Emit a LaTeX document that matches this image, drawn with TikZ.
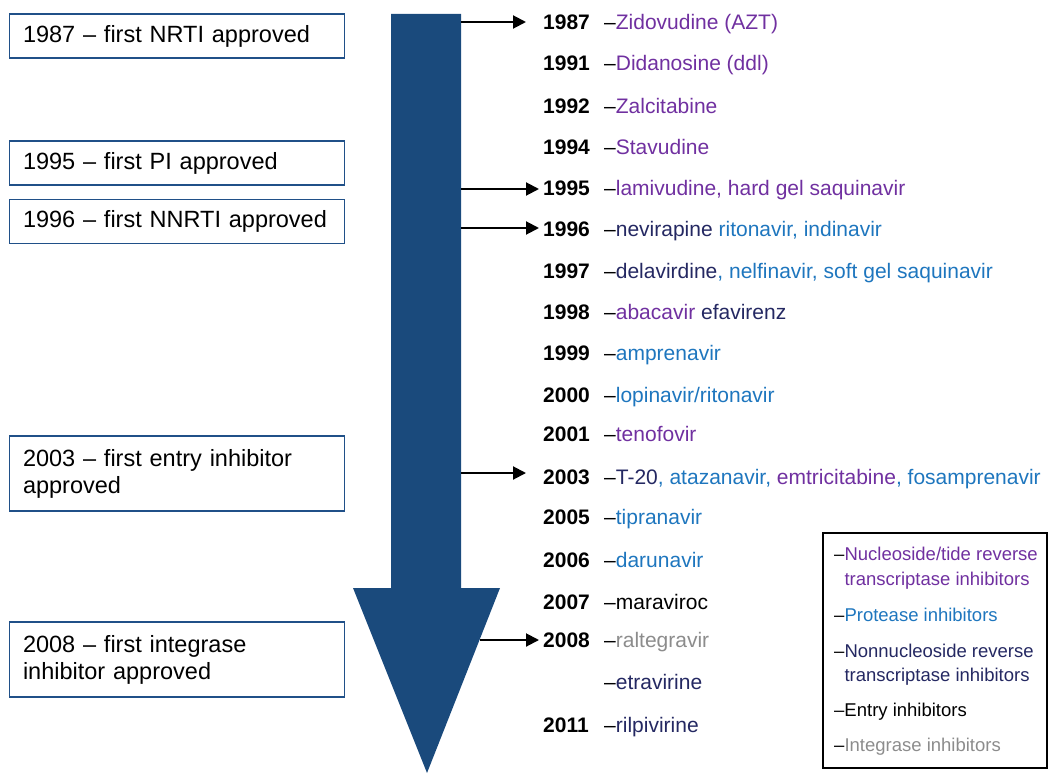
\documentclass[tikz,border=0pt]{standalone}
\usepackage{fontspec}
\setmainfont{Liberation Sans}
\usetikzlibrary{arrows.meta}
\definecolor{nrti}{RGB}{112,48,160}
\definecolor{pinh}{RGB}{30,118,190}
\definecolor{nnrti}{RGB}{36,40,98}
\definecolor{integ}{RGB}{140,140,140}
\definecolor{bigblue}{RGB}{26,74,124}
\definecolor{boxblue}{RGB}{32,80,136}
\begin{document}
\begin{tikzpicture}[x=1pt,y=-1pt,
  lbox/.style={draw=boxblue, line width=1.5pt, minimum width=335pt, text width=311pt, inner xsep=12pt, inner ysep=0pt, align=left, font=\fontsize{23.5}{27}\selectfont},
  yr/.style={anchor=base west, inner sep=0pt, font=\fontsize{21}{25}\selectfont\bfseries},
  drug/.style={anchor=base west, inner sep=0pt, font=\fontsize{21}{25}\selectfont},
  leg/.style={anchor=base west, inner sep=0pt, font=\fontsize{18.5}{25}\selectfont},
  conn/.style={line width=2pt, -{Triangle[length=13pt,width=13pt]}}]
\useasboundingbox (0,0) rectangle (1051,773);
% big arrow
\fill[bigblue] (391,14) -- (461,14) -- (461,588) -- (500,588) -- (427,773) -- (353,588) -- (391,588) -- cycle;
% left boxes
\node[lbox, minimum height=44pt] (b1987) at (177,36) {\hspace*{1.5pt}1987 – first NRTI approved};
\node[lbox, minimum height=44pt] (b1995) at (177,163) {\hspace*{1.5pt}1995 – first PI approved};
\node[lbox, minimum height=44pt] (b1996) at (177,221.5) {\hspace*{1.5pt}1996 – first NNRTI approved};
\node[lbox, minimum height=75pt] (b2003) at (177,473.5) {\hspace*{1.5pt}2003 – first entry inhibitor\\\hspace*{1.5pt}approved};
\node[lbox, minimum height=75pt] (b2008) at (177,659.5) {\hspace*{1.5pt}2008 – first integrase\\\hspace*{1.5pt}inhibitor approved};
% years
\node[yr] (y1987) at (543,29.5) {1987};
\node[yr] (y1991) at (543,70.5) {1991};
\node[yr] (y1992) at (543,113.5) {1992};
\node[yr] (y1994) at (543,154.5) {1994};
\node[yr] (y1995) at (543,195.5) {1995};
\node[yr] (y1996) at (543,236.5) {1996};
\node[yr] (y1997) at (543,278.5) {1997};
\node[yr] (y1998) at (543,319.5) {1998};
\node[yr] (y1999) at (543,360.5) {1999};
\node[yr] (y2000) at (543,402.5) {2000};
\node[yr] (y2001) at (543,441.5) {2001};
\node[yr] (y2003) at (543,484.5) {2003};
\node[yr] (y2005) at (543,524.5) {2005};
\node[yr] (y2006) at (543,567.5) {2006};
\node[yr] (y2007) at (543,609.5) {2007};
\node[yr] (y2008) at (543,647.5) {2008};
\node[yr] (y2011) at (543,732.5) {2011};
% drugs
\node[drug] (d1987) at (604,29.5) {–\textcolor{nrti}{Zidovudine (AZT)}};
\node[drug] (d1991) at (604,70.5) {–\textcolor{nrti}{Didanosine (ddl)}};
\node[drug] (d1992) at (604,113.5) {–\textcolor{nrti}{Zalcitabine}};
\node[drug] (d1994) at (604,154.5) {–\textcolor{nrti}{Stavudine}};
\node[drug] (d1995) at (604,195.5) {–\textcolor{nrti}{lamivudine, hard gel saquinavir}};
\node[drug] (d1996) at (604,236.5) {–\textcolor{nnrti}{nevirapine} \textcolor{pinh}{ritonavir, indinavir}};
\node[drug] (d1997) at (604,278.5) {–\textcolor{nnrti}{delavirdine}\textcolor{pinh}{, nelfinavir, soft gel saquinavir}};
\node[drug] (d1998) at (604,319.5) {–\textcolor{nrti}{abacavir} \textcolor{nnrti}{efavirenz}};
\node[drug] (d1999) at (604,360.5) {–\textcolor{pinh}{amprenavir}};
\node[drug] (d2000) at (604,402.5) {–\textcolor{pinh}{lopinavir/ritonavir}};
\node[drug] (d2001) at (604,441.5) {–\textcolor{nrti}{tenofovir}};
\node[drug] (d2003) at (604,484.5) {–\textcolor{nnrti}{T-20}\textcolor{pinh}{, atazanavir,} \textcolor{nrti}{emtricitabine}\textcolor{pinh}{, fosamprenavir}};
\node[drug] (d2005) at (604,524.5) {–\textcolor{pinh}{tipranavir}};
\node[drug] (d2006) at (604,567.5) {–\textcolor{pinh}{darunavir}};
\node[drug] (d2007) at (604,609.5) {–maraviroc};
\node[drug] (d2008) at (604,647.5) {–\textcolor{integ}{raltegravir}};
\node[drug] (detra) at (604,689.5) {–\textcolor{nnrti}{etravirine}};
\node[drug] (d2011) at (604,732.5) {–\textcolor{nnrti}{rilpivirine}};
% connectors
\coordinate (s1987) at (461,22);
\coordinate (s1995) at (461,189);
\coordinate (s1996) at (461,228);
\coordinate (s2003) at (461,473);
\coordinate (s2008) at (480,640);
\draw[conn, shorten >=17pt] (s1987) -- (s1987 -| y1987.west);
\draw[conn, shorten >=4pt] (s1995) -- (s1995 -| y1995.west);
\draw[conn, shorten >=4pt] (s1996) -- (s1996 -| y1996.west);
\draw[conn, shorten >=17pt] (s2003) -- (s2003 -| y2003.west);
\draw[conn, shorten >=4pt] (s2008) -- (s2008 -| y2008.west);
% legend
\node[draw, line width=2pt, minimum width=224pt, minimum height=235pt, inner sep=0pt] (legend) at (935,650.5) {};
\node[leg] (l1a) at (834,560) {–\textcolor{nrti}{Nucleoside/tide reverse}};
\node[leg] (l1b) at (834,585) {\phantom{–}\textcolor{nrti}{transcriptase inhibitors}};
\node[leg] (l2) at (834,621) {–\textcolor{pinh}{Protease inhibitors}};
\node[leg] (l3a) at (834,657) {–\textcolor{nnrti}{Nonnucleoside reverse}};
\node[leg] (l3b) at (834,681) {\phantom{–}\textcolor{nnrti}{transcriptase inhibitors}};
\node[leg] (l4) at (834,716) {–Entry inhibitors};
\node[leg] (l5) at (834,751) {–\textcolor{integ}{Integrase inhibitors}};
\end{tikzpicture}
\end{document}
